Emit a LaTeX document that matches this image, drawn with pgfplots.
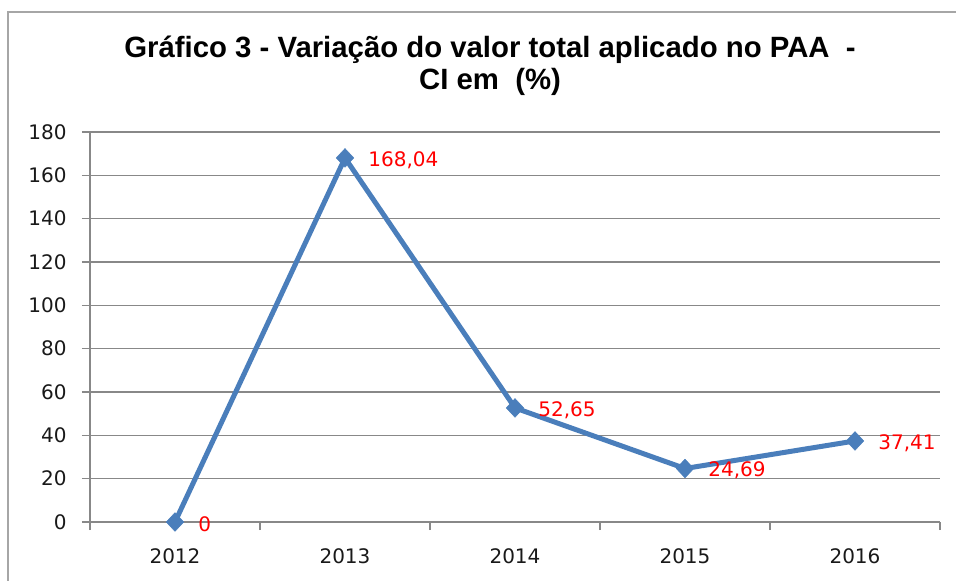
\documentclass[border=0pt]{standalone}
\usepackage{fontspec}
\setmainfont{DejaVu Sans}
\newfontfamily\titlefont{Liberation Sans}
\usepackage{pgfplots}
\pgfplotsset{compat=1.18}
\definecolor{serie}{HTML}{4A7EBB}
\definecolor{grade}{HTML}{888888}
\definecolor{moldura}{HTML}{A6A6A6}
\begin{document}
\begin{tikzpicture}[x=0.75pt,y=-0.75pt]
\useasboundingbox (0,0) rectangle (956,581);
\draw[moldura, line width=1.5pt] (8,600) -- (8,12) -- (970,12);
\node[font=\titlefont\bfseries\fontsize{22}{24}\selectfont, align=center] at (490,66)
  {Gráfico 3 - Variação do valor total aplicado no PAA\ \ -\\CI em\ \ (\%)};
\begin{axis}[
    at={(67.5pt,-391.5pt)}, anchor=south west,
    scale only axis,
    width=637.5pt, height=292.5pt,
    xmin=-0.5, xmax=4.5,
    ymin=0, ymax=180,
    ytick={0,20,...,180},
    xtick={-0.5,0.5,...,4.5},
    xticklabels={2012,2013,2014,2015,2016},
    x tick label as interval,
    axis lines*=left,
    ymajorgrids,
    grid style={grade, line width=1.2pt},
    axis line style={grade, line width=1.2pt},
    tick style={grade, line width=1.2pt},
    tick align=outside,
    major tick length=6pt,
    /pgf/number format/assume math mode=true,
    tick label style={font=\fontsize{15}{18}\selectfont, text=black!90},
    yticklabel style={xshift=-8pt},
    xticklabel style={yshift=-10.5pt},
    clip=false,
]
\addplot[serie, line width=3.75pt, mark=diamond*,
    mark size=7pt, mark options={solid, line width=0.4pt, xscale=1.25},
    nodes near coords, point meta=explicit symbolic,
    every node near coord/.append style={anchor=west, text=red,
        font=\fontsize{15}{18}\selectfont, xshift=14pt, yshift=-1.5pt}]
coordinates {
    (0,0) [0]
    (1,168.04) [168,04]
    (2,52.65) [52,65]
    (3,24.69) [24,69]
    (4,37.41) [37,41]
};
\end{axis}
\end{tikzpicture}
\end{document}
